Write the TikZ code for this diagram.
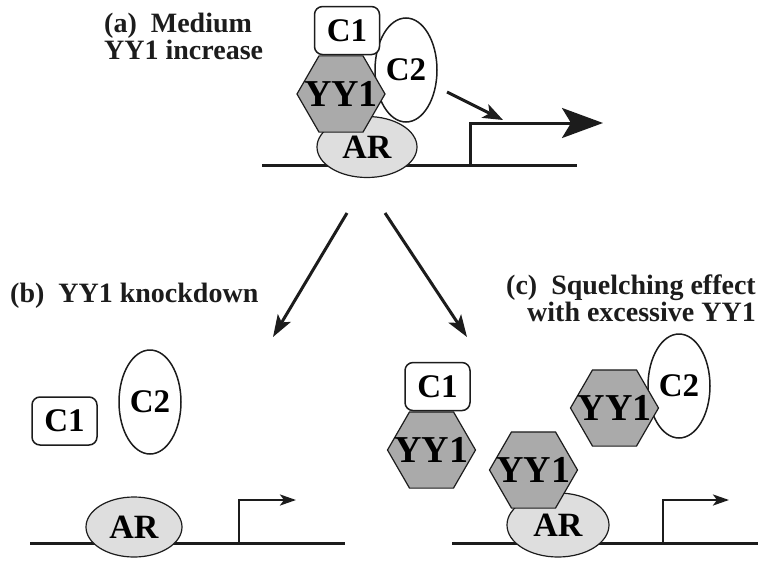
\documentclass[tikz,border=0pt]{standalone}
\usepackage{fontspec}
\setmainfont{Liberation Serif}
\usetikzlibrary{arrows.meta, positioning, shapes.geometric, calc}
\definecolor{yy_gray}{RGB}{170,170,170}
\definecolor{ar_gray}{RGB}{222,222,222}
\definecolor{ink}{RGB}{28,28,28}

% text of a hexagon, kept out of the shape's size
\newcommand{\yytag}{\makebox[0pt]{YY1}}

\tikzset{
  dnaline/.style={ink, line width=3pt},
  yyhex/.style={regular polygon, regular polygon sides=6, minimum size=88pt,
    inner sep=0pt, draw=ink, line width=1.2pt, fill=yy_gray,
    font=\fontsize{38}{38}\selectfont\bfseries},
  arblob/.style={ellipse, minimum width=100pt, minimum height=61pt, inner sep=0pt,
    draw=ink, line width=1.2pt, fill=ar_gray, font=\fontsize{34}{34}\selectfont\bfseries},
  cbox/.style={rectangle, rounded corners=8pt, minimum width=65pt, minimum height=48pt,
    inner sep=0pt, draw=ink, line width=1.5pt, fill=white,
    font=\fontsize{33}{33}\selectfont\bfseries},
  coval/.style={ellipse, minimum width=62pt, minimum height=104pt, inner sep=0pt,
    draw=ink, line width=1.5pt, fill=white, font=\fontsize{33}{33}\selectfont\bfseries},
  panellabel/.style={font=\fontsize{28}{24.5}\selectfont\bfseries, inner sep=0pt, text=ink},
  promarrow/.style={ink, line width=2.5pt, -{Stealth[length=16pt, width=11pt, inset=4pt]}},
  stagearrow/.style={ink, line width=3pt, -{Stealth[length=22pt, width=15pt, inset=5pt]}},
}

\begin{document}
\begin{tikzpicture}[x=1pt, y=-1pt]
  \useasboundingbox (0,0) rectangle (758,560);

  % (a) medium YY1 increase
  \node[panellabel, align=left, anchor=north west] (labA) at (104,13)
    {(a)\ \ Medium\\YY1 increase};
  \coordinate (aL) at (262,165);
  \coordinate (aR) at (577,165);
  \draw[dnaline] (aL) -- (aR);
  \node[arblob] (aAR) at (367,147) {AR};
  \node[coval] (aC2) at (406,70) {C2};
  \node[yyhex] (aYY) at (341,94) {\yytag};
  \node[cbox, above=0pt of aYY, xshift=6pt] (aC1) {C1};
  \coordinate (aTSS) at (470,165);
  \coordinate (aEnd) at (603,123);
  \draw[ink, line width=3pt, -{Stealth[length=41pt, width=30pt, inset=9pt]}]
    (aTSS) |- (aEnd);
  \coordinate (aPushS) at (447,92);
  \coordinate (aPushE) at (503,120);
  \draw[ink, line width=3pt, -{Stealth[length=20pt, width=15pt, inset=5pt]}]
    (aPushS) -- (aPushE);

  % split into the two outcomes
  \coordinate (splitL) at (347,213);
  \coordinate (splitR) at (385,213);
  \coordinate (toB) at (273,337);
  \coordinate (toC) at (467,337);
  \draw[stagearrow] (splitL) -- (toB);
  \draw[stagearrow] (splitR) -- (toC);

  % (b) YY1 knockdown
  \node[panellabel, anchor=north west] (labB) at (10,283) {(b)\ \ YY1 knockdown};
  \coordinate (bL) at (30,543);
  \coordinate (bR) at (345,543);
  \draw[dnaline] (bL) -- (bR);
  \node[arblob, minimum width=96pt, minimum height=60pt] (bAR) at (134,527) {AR};
  \node[cbox] (bC1) at (64.5,421) {C1};
  \node[coval] (bC2) at (150,402) {C2};
  \coordinate (bTSS) at (239,543);
  \coordinate (bEnd) at (296,500);
  \draw[promarrow] (bTSS) |- (bEnd);

  % (c) squelching with excessive YY1
  \node[panellabel, align=right, anchor=north east] (labC) at (756,275)
    {(c)\ \ Squelching effect\\with excessive YY1};
  \coordinate (cL) at (452,543);
  \coordinate (cR) at (770,543);
  \draw[dnaline] (cL) -- (cR);
  \node[arblob, minimum width=102pt, minimum height=64pt] (cAR) at (558,525) {AR};
  \node[yyhex] (cYYb) at (533.5,470) {\yytag};
  \node[yyhex] (cYYl) at (431.5,450) {\yytag};
  \node[cbox, above=0pt of cYYl, xshift=6pt] (cC1) {C1};
  \node[coval] (cC2) at (679,386) {C2};
  \node[yyhex] (cYYr) at (614.5,408) {\yytag};
  \coordinate (cTSS) at (663,543);
  \coordinate (cEnd) at (729,500);
  \draw[promarrow] (cTSS) |- (cEnd);
\end{tikzpicture}
\end{document}
